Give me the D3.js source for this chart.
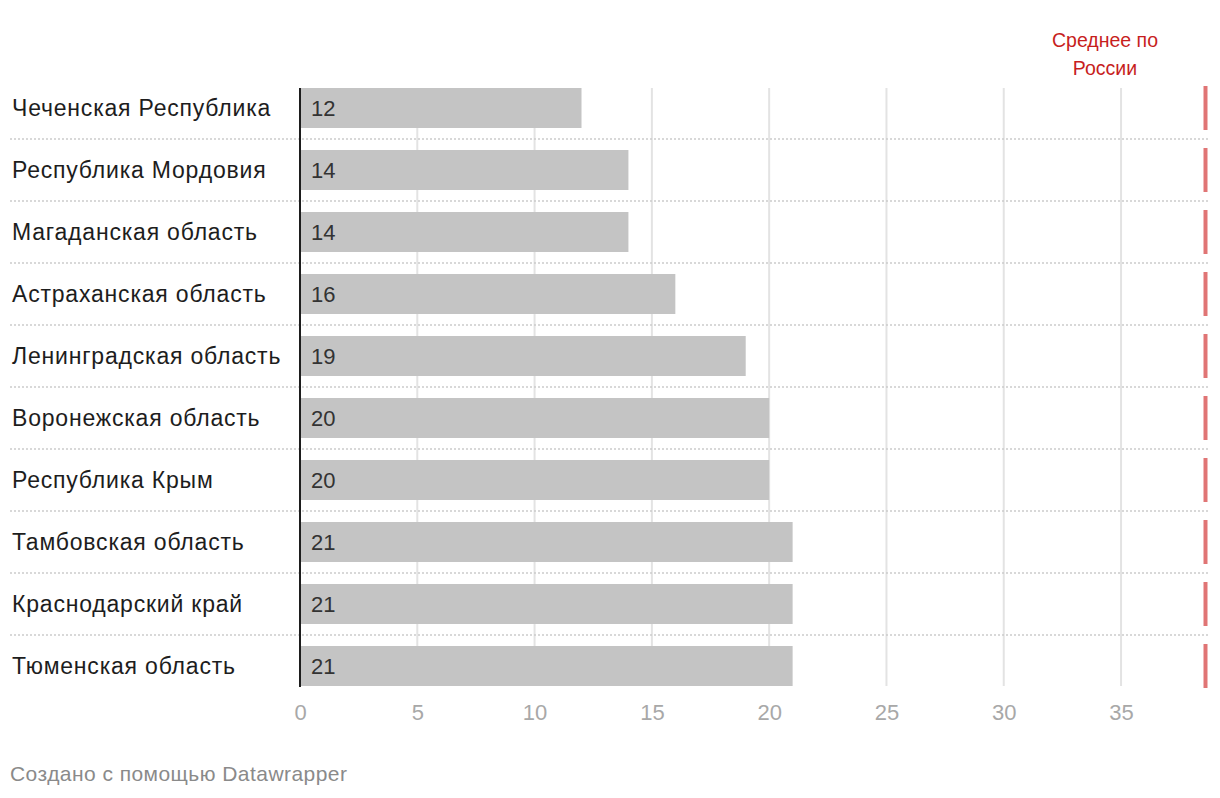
<!DOCTYPE html>
<html><head><meta charset="utf-8">
<script src="https://cdn.jsdelivr.net/npm/d3@7"></script>
<style>
html,body{margin:0;padding:0;background:#fff;}
svg{display:block;font-family:"Liberation Sans",Arial,sans-serif;}
</style></head>
<body><svg id="chart" width="1220" height="798"></svg>
<script>
const categories = ["Чеченская Республика","Республика Мордовия","Магаданская область","Астраханская область","Ленинградская область","Воронежская область","Республика Крым","Тамбовская область","Краснодарский край","Тюменская область"];
const values = [12,14,14,16,19,20,20,21,21,21];
const russiaAverage = 38.6;
const tickValues = [0,5,10,15,20,25,30,35];
const annotationLines = ["Среднее по","России"];
const footerText = "Создано с помощью Datawrapper";

const FONT = "'Liberation Sans',Arial,sans-serif";
const svg = d3.select("#chart");
const x0 = 300, xMaxPx = 1205.5;
const x = d3.scaleLinear().domain([0, russiaAverage]).range([x0, xMaxPx]);
const y = d3.scaleBand().domain(categories).range([77, 697]).paddingInner(22/62).paddingOuter(11/62);
const step = y.step();

// grid
svg.append("g").selectAll("line").data(tickValues.filter(d=>d>0)).join("line")
  .attr("x1",d=>x(d)).attr("x2",d=>x(d)).attr("y1",88).attr("y2",686)
  .attr("stroke","#e3e3e3").attr("stroke-width",2);

// dotted separators
svg.append("g").selectAll("line").data(categories.slice(0,-1)).join("line")
  .attr("x1",10).attr("x2",1210)
  .attr("y1",d=>y(d)+y.bandwidth()+ (step-y.bandwidth())/2)
  .attr("y2",d=>y(d)+y.bandwidth()+ (step-y.bandwidth())/2)
  .attr("stroke","#cccccc").attr("stroke-width",1.3).attr("stroke-dasharray","2,2");

// bars
svg.append("g").selectAll("rect").data(values).join("rect")
  .attr("x",x(0)+1).attr("y",(d,i)=>y(categories[i]))
  .attr("width",d=>x(d)-x(0)-1).attr("height",y.bandwidth())
  .attr("fill","#c4c4c4");

// value labels
svg.append("g").selectAll("text").data(values).join("text")
  .attr("x",x(0)+11).attr("y",(d,i)=>y(categories[i])+y.bandwidth()/2)
  .attr("dy","0.36em").attr("font-size",22).attr("fill","#333")
  .text(d=>d);

// category labels
svg.append("g").selectAll("text").data(categories).join("text")
  .attr("x",12).attr("y",d=>y(d)+y.bandwidth()/2).attr("dy","0.35em")
  .attr("font-size",23).attr("letter-spacing",0.8).attr("fill","#1d1d1d").text(d=>d);

// baseline
svg.append("line").attr("x1",x(0)).attr("x2",x(0)).attr("y1",88).attr("y2",687)
  .attr("stroke","#1d1d1d").attr("stroke-width",2);

// average marks
svg.append("g").selectAll("line").data(categories).join("line")
  .attr("x1",x(russiaAverage)).attr("x2",x(russiaAverage))
  .attr("y1",d=>y(d)-2).attr("y2",d=>y(d)+y.bandwidth()+2)
  .attr("stroke","#e07575").attr("stroke-width",4);

// axis ticks
const axis = d3.axisBottom(x).tickValues(tickValues).tickSize(0).tickPadding(0);
const ag = svg.append("g").attr("transform","translate(0,712)").call(axis);
ag.select(".domain").remove();
ag.selectAll("text").attr("font-size",22).attr("fill","#a8a8a8")
  .attr("font-family",FONT).attr("dy","0.36em").attr("y",0);

// annotation
svg.append("text").attr("x",1105).attr("text-anchor","middle").attr("font-size",19.5)
  .attr("fill","#c71e1d")
  .selectAll("tspan").data(annotationLines).join("tspan")
  .attr("x",1105).attr("y",(d,i)=>47+i*28).text(d=>d);

// footer
svg.append("text").attr("x",10).attr("y",781).attr("font-size",21).attr("letter-spacing",0.45)
  .attr("fill","#8a8a8a").text(footerText);
</script></body></html>
